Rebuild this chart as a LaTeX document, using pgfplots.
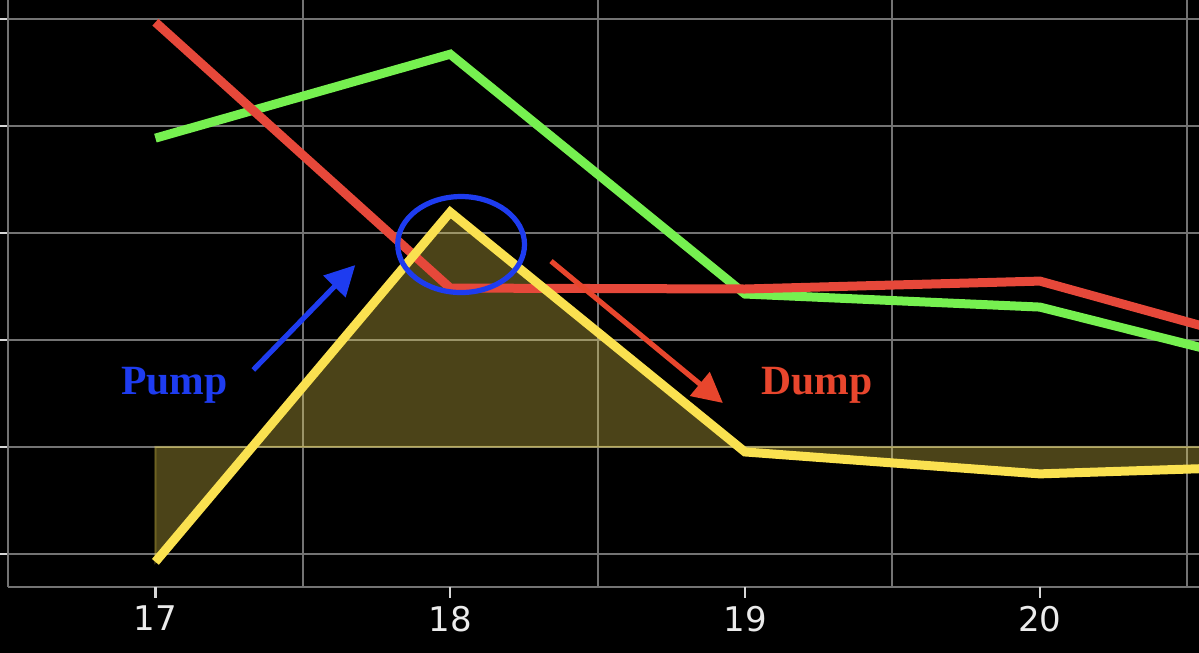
\documentclass[border=0pt]{standalone}
\usepackage{pgfplots}
\pgfplotsset{compat=1.18}
\usepackage{fontspec}
\usetikzlibrary{arrows.meta}
\newfontfamily\dejavu{DejaVu Sans}
\newfontfamily\libserif{Liberation Serif}

\definecolor{cred}{RGB}{230,72,58}
\definecolor{cgreen}{RGB}{118,240,80}
\definecolor{cyellow}{RGB}{250,225,80}
\definecolor{cblue}{RGB}{30,60,240}
\definecolor{cdump}{RGB}{232,70,45}
\definecolor{cgrid}{RGB}{115,115,115}
\definecolor{ctick}{RGB}{215,215,215}

\begin{document}
\begin{tikzpicture}
% black background (axis is placed with its south west corner at the origin)
\fill[black] (-4pt,-33pt) rectangle (595.5pt,293.5pt);
\begin{axis}[
    at={(0pt,0pt)}, anchor=south west,
    scale only axis,
    width=595.5pt,
    height=293.5pt,
    xmin=16.5, xmax=20.54,
    ymin=-0.31, ymax=5.18,
    enlargelimits=false,
    axis x line*=bottom,
    axis y line*=left,
    axis line style={cgrid, line width=1pt},
    xtick={17,18,19,20},
    ytick={0,1,2,3,4,5},
    yticklabels={},
    xtick align=outside,
    ytick align=outside,
    major tick length=5pt,
    xtick style={draw=ctick, line width=1.2pt},
    ytick style={draw=ctick, line width=1pt},
    xmajorgrids=false,
    ymajorgrids=true,
    extra x ticks={16.5,17.5,18.5,19.5,20.5},
    extra x tick labels={},
    extra x tick style={xmajorgrids=true, major tick length=0pt},
    major grid style={cgrid, line width=1pt},
    /pgf/number format/assume math mode=true,
    xticklabel style={font=\dejavu\fontsize{17}{20}\selectfont, text=white!92!black, yshift=-1pt},
    clip mode=individual
]
% shaded area between yellow line and baseline 1
\addplot[fill=cyellow, fill opacity=0.3, draw=cyellow, draw opacity=0.3, line width=1pt]
    coordinates {(17,1) (17,-0.075) (18,3.196) (19,0.953) (20,0.748) (21,0.837) (21,1)} -- cycle;
% green
\addplot[cgreen, line width=4.5pt] coordinates {
    (17,3.888) (18,4.673) (19,2.430) (20,2.308) (21,1.615)};
% red
\addplot[cred, line width=4.5pt] coordinates {
    (17,4.972) (18,2.486) (19,2.477) (20,2.551) (21,1.789)};
% yellow
\addplot[cyellow, line width=4.5pt] coordinates {
    (17,-0.075) (18,3.196) (19,0.953) (20,0.748) (21,0.837)};

% annotations
\draw[cblue, line width=2.6pt] (axis cs:18.037,2.893) ellipse [x radius=31.7pt, y radius=24pt];
\draw[cblue, line width=2.6pt, -{Triangle[length=15pt,width=15pt]}]
    (axis cs:17.332,1.720) -- (axis cs:17.678,2.701);
\draw[cdump, line width=2.6pt, -{Triangle[length=15pt,width=15pt]}]
    (axis cs:18.342,2.738) -- (axis cs:18.925,1.411);
\node[text=cblue, font=\libserif\bfseries\fontsize{20.8}{24}\selectfont] at (axis cs:17.064,1.575) {Pump};
\node[text=cdump, font=\libserif\bfseries\fontsize{20.8}{24}\selectfont] at (axis cs:19.245,1.575) {Dump};
\end{axis}
% x tick marks below the axis line
\foreach \k in {0,1,2,3} {
    \draw[ctick, line width=1.1pt] ({73.70pt+\k*147.40pt},0pt) -- ++(0pt,-5.5pt);
}
\pgfresetboundingbox
\path (-4pt,-33pt) rectangle (595.5pt,293.5pt);
\end{tikzpicture}
\end{document}
